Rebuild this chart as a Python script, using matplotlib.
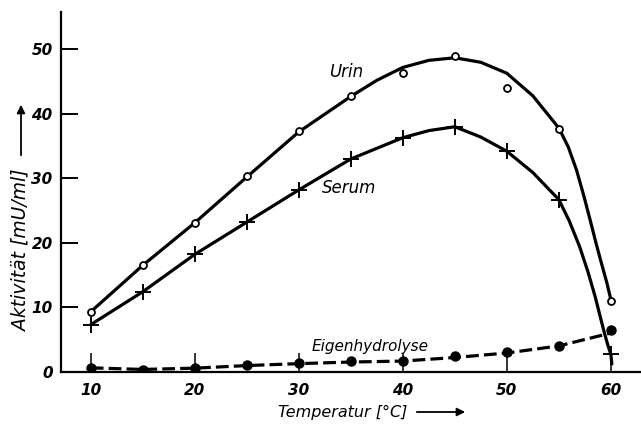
import numpy as np
import matplotlib
matplotlib.use('Agg')
import matplotlib.pyplot as plt
from matplotlib.patches import FancyArrowPatch

# measured points (temperature in degC, activity in mU/ml)
temps = [10, 15, 20, 25, 30, 35, 40, 45, 50, 55, 60]
urin = [9.3, 16.5, 23.0, 30.3, 37.3, 42.7, 46.3, 49.0, 44.0, 37.7, 11.0]
serum = [7.3, 12.4, 18.2, 23.2, 28.2, 33.0, 36.3, 38.0, 34.2, 26.7, 2.7]
eigen = [0.6, 0.3, 0.5, 1.0, 1.3, 1.6, 1.6, 2.4, 3.0, 4.0, 6.4]

# hand drawn fit curves
urin_curve_t = [10, 15, 20, 25, 30, 35, 37.5, 40, 42.5, 45, 47.5, 50, 52.5, 55, 55.9, 56.7, 57.4, 58.0, 58.6, 59.1, 59.6, 60]
urin_curve_v = [9.3, 16.5, 23.1, 30.2, 37.2, 42.7, 45.2, 47.2, 48.3, 48.7, 48.0, 46.3, 42.8, 37.8, 34.9, 31.3, 27.3, 23.6, 19.8, 16.8, 13.9, 11.2]
serum_curve_t = [10, 15, 20, 25, 30, 35, 40, 42.5, 45, 47.5, 50, 52.5, 55, 56.0, 57.0, 57.8, 58.5, 59.0, 59.4, 59.7, 60, 60.1]
serum_curve_v = [7.3, 12.4, 18.2, 23.2, 28.2, 33.0, 36.3, 37.4, 38.0, 36.4, 34.2, 30.9, 26.7, 23.4, 19.4, 15.5, 11.6, 8.4, 5.9, 4.2, 2.7, 1.2]
eigen_curve_t = temps
eigen_curve_v = [0.6, 0.35, 0.55, 0.95, 1.25, 1.5, 1.65, 2.2, 2.9, 4.0, 6.0]

xticks = [10, 20, 30, 40, 50, 60]
yticks = [0, 10, 20, 30, 40, 50]

W, H = 641, 426
fig = plt.figure(figsize=(W / 100, H / 100), dpi=100)
ax = fig.add_axes([61 / W, 1 - 371.7 / H, 1 - 61 / W, (371.7 - 12) / H])

tick_font = dict(family='DejaVu Sans', style='italic', weight='bold', size=11)

lw = 2.3
ax.plot(urin_curve_t, urin_curve_v, '-', color='black', lw=lw, solid_capstyle='round',
        solid_joinstyle='round', zorder=2)
ax.plot(serum_curve_t, serum_curve_v, '-', color='black', lw=lw, solid_capstyle='round',
        solid_joinstyle='round', zorder=2)
ax.plot(eigen_curve_t, eigen_curve_v, '--', color='black', lw=lw, dashes=(4, 1.6), zorder=2)

ax.plot(temps, urin, 'o', ms=5, mfc='white', mec='black', mew=1.3, zorder=4)
ax.plot(temps, serum, '+', ms=11, mec='black', mew=1.4, zorder=4)
ax.plot(temps, eigen, 'o', ms=6.5, mfc='black', mec='black', zorder=4)

ax.set_xlim(7.14, 62.9)
ax.set_ylim(0, 55.8)

for s in ['top', 'right']:
    ax.spines[s].set_visible(False)
for s in ['left', 'bottom']:
    ax.spines[s].set_linewidth(1.6)

ax.set_xticks(xticks)
ax.set_yticks(yticks)
ax.set_xticklabels([str(t) for t in xticks], **tick_font)
ax.set_yticklabels([str(t) for t in yticks], **tick_font)
ax.tick_params(axis='x', direction='in', length=14, width=1.1, pad=8)
ax.tick_params(axis='y', direction='in', length=12, width=1.4, pad=6)

lab = dict(family='DejaVu Sans', style='italic', ha='center', va='center')
ax.text(34.55, 46.5, 'Urin', size=12, **lab)
ax.text(34.84, 28.5, 'Serum', size=12, **lab)
ax.text(36.86, 3.9, 'Eigenhydrolyse', size=11, **lab)

# axis titles with arrows
fig.text(343 / W, 1 - 412 / H, 'Temperatur [°C]', size=11.5, **lab)
fig.text(21 / W, 1 - 250 / H, 'Aktivität [mU/ml]', size=13.5, rotation=90, **lab)
arrow = dict(arrowstyle='-|>', mutation_scale=12, color='black', lw=1.3, transform=fig.transFigure)
fig.add_artist(FancyArrowPatch((414 / W, 1 - 412 / H), (468 / W, 1 - 412 / H), **arrow))
fig.add_artist(FancyArrowPatch((21 / W, 1 - 158 / H), (21 / W, 1 - 102 / H), **arrow))

fig.savefig('out.png', dpi=100)
